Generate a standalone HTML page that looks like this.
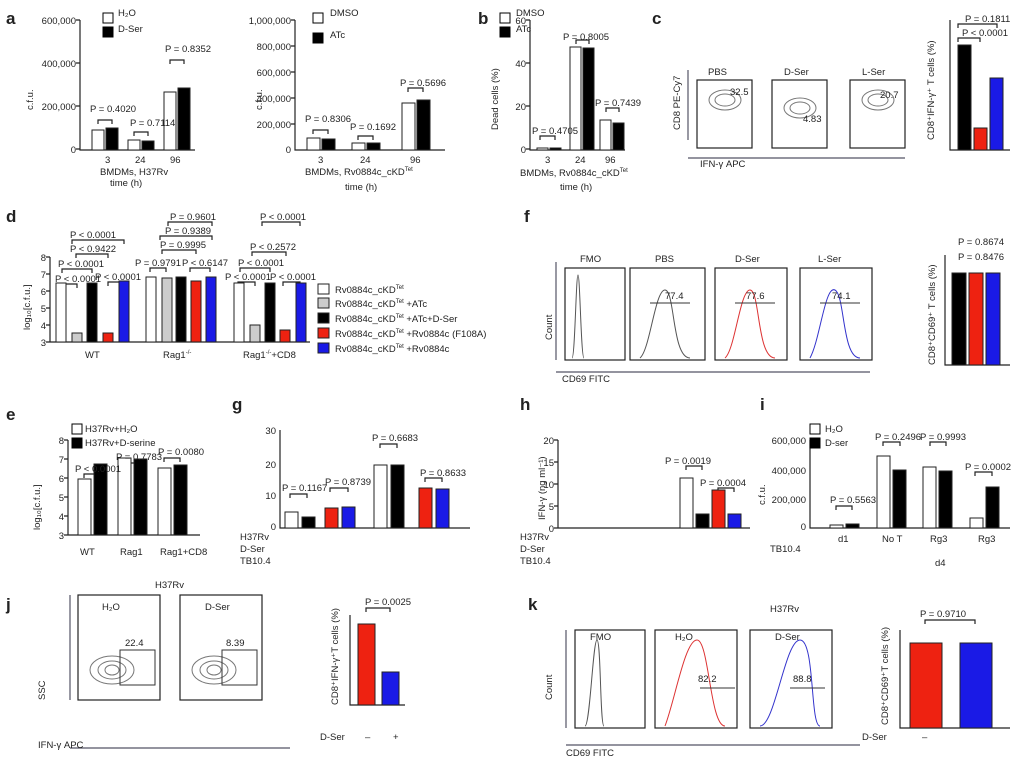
<!DOCTYPE html><html><head><style>body{margin:0;background:#fff}svg{display:block}text{font-family:"Liberation Sans",sans-serif;fill:#222}</style></head><body>
<svg width="1021" height="759" viewBox="0 0 1021 759" xmlns="http://www.w3.org/2000/svg">
<g font-weight="bold" font-size="17"><text x="6" y="24">a</text><text x="478" y="24">b</text><text x="652" y="24">c</text><text x="6" y="222">d</text><text x="524" y="222">f</text><text x="6" y="420">e</text><text x="232" y="410">g</text><text x="520" y="410">h</text><text x="760" y="410">i</text><text x="6" y="610">j</text><text x="528" y="610">k</text></g>
<g stroke="#222" stroke-width="1.2" fill="none">
<path d="M80 20V150H195M76 20H80M76 63H80M76 106H80M76 149H80"/>
<path d="M295 20V150H445M291 20H295M291 46H295M291 72H295M291 98H295M291 124H295"/>
<path d="M530 20V150H625M526 20H530M526 63H530M526 106H530M526 149H530"/>
<path d="M950 20V150H1010"/>
<path d="M50 257V342H310M46 257H50M46 274H50M46 291H50M46 308H50M46 325H50M46 342H50"/>
<path d="M945 255V365H1010"/>
<path d="M68 440V535H200M64 440H68M64 459H68M64 478H68M64 497H68M64 516H68M64 535H68"/>
<path d="M280 430V528H470"/>
<path d="M558 440V528H750M554 440H558M554 462H558M554 484H558M554 506H558M554 528H558"/>
<path d="M810 440V528H1010"/>
<path d="M350 615V705H405"/>
<path d="M900 630V728H1010"/>
<rect x="697" y="80" width="55" height="68"/><rect x="772" y="80" width="55" height="68"/><rect x="850" y="80" width="55" height="68"/>
<path d="M688 140V70M688 158H905" stroke="#556"/>
<rect x="565" y="268" width="60" height="92"/><rect x="630" y="268" width="75" height="92"/><rect x="715" y="268" width="72" height="92"/><rect x="800" y="268" width="72" height="92"/>
<path d="M556 360V262M556 372H870" stroke="#556"/>
<rect x="78" y="595" width="82" height="105"/><rect x="180" y="595" width="82" height="105"/>
<path d="M70 700V595M70 748H290" stroke="#556"/>
<rect x="575" y="630" width="70" height="98"/><rect x="655" y="630" width="82" height="98"/><rect x="750" y="630" width="82" height="98"/>
<path d="M566 728V630M566 745H860" stroke="#556"/>
<!-- brackets -->
<path d="M98 124V120H112V124M134 136V132H148V136M170 64V60H184V64M313 134V130H328V134M358 140V136H373V140M408 92V88H423V92M540 140V136H555V140M576 44V40H589V44M606 112V108H619V112M958 28V24H997V28M958 42V38H980V42"/>
<path d="M60 288V284H77V288M62 273V269H92V273M76 258V254H108V258M72 244V240H124V244M108 286V282H124V286M150 272V268H166V272M162 254V250H196V254M160 240V236H212V240M168 226V222H212V226M190 272V268H210V272M238 286V282H255V286M240 272V268H270V272M252 256V252H286V256M262 226V222H300V226M283 286V282H300V286"/>
<path d="M84 478V474H100V478M124 467V463H140V467M164 462V458H180V462M290 498V494H307V498M330 492V488H348V492M380 448V444H397V448M425 482V478H442V482M686 470V466H702V470M718 492V488H734V492M836 510V506H852V510M883 446V442H900V446M930 446V442H946V446M975 476V472H992V476M366 612V608H390V612M925 624V620H975V624"/>
</g>
<g fill="none" stroke="#777" stroke-width="1">
<ellipse cx="725" cy="100" rx="16" ry="10"/><ellipse cx="725" cy="100" rx="10" ry="6"/><ellipse cx="800" cy="108" rx="16" ry="10"/><ellipse cx="800" cy="108" rx="10" ry="6"/><ellipse cx="878" cy="100" rx="16" ry="10"/><ellipse cx="878" cy="100" rx="10" ry="6"/>
<ellipse cx="112" cy="670" rx="22" ry="14"/><ellipse cx="112" cy="670" rx="14" ry="9"/><ellipse cx="112" cy="670" rx="7" ry="5"/><ellipse cx="214" cy="670" rx="22" ry="14"/><ellipse cx="214" cy="670" rx="14" ry="9"/><ellipse cx="214" cy="670" rx="7" ry="5"/>
<rect x="120" y="650" width="35" height="35" stroke="#333"/><rect x="222" y="650" width="35" height="35" stroke="#333"/>
<path d="M572 358C575 358 576 275 578 275S581 358 584 358" stroke="#555"/>
<path d="M640 358C650 350 655 290 665 290S672 358 690 358" stroke="#555"/>
<path d="M725 358C735 350 740 290 750 290S757 358 775 358" stroke="#d33"/>
<path d="M810 358C820 340 825 285 835 290S842 358 860 358" stroke="#33c"/>
<path d="M585 726C590 726 593 640 597 640S600 726 604 726" stroke="#555"/>
<path d="M665 726C675 700 685 640 697 640S710 726 725 726" stroke="#d33"/>
<path d="M760 726C775 726 785 640 800 640S810 726 820 726" stroke="#33c"/>
<path d="M650 303H690M735 303H775M820 303H860M700 688H735M790 688H825" stroke="#333"/>
</g>
<g stroke="#222" stroke-width="1">
<rect x="92" y="130" width="12" height="20" fill="#fff"/><rect x="106" y="128" width="12" height="22" fill="#000"/>
<rect x="128" y="140" width="12" height="10" fill="#fff"/><rect x="142" y="141" width="12" height="9" fill="#000"/>
<rect x="164" y="92" width="12" height="58" fill="#fff"/><rect x="178" y="88" width="12" height="62" fill="#000"/>
<rect x="307" y="138" width="13" height="12" fill="#fff"/><rect x="322" y="139" width="13" height="11" fill="#000"/>
<rect x="352" y="143" width="13" height="7" fill="#fff"/><rect x="367" y="143" width="13" height="7" fill="#000"/>
<rect x="402" y="103" width="13" height="47" fill="#fff"/><rect x="417" y="100" width="13" height="50" fill="#000"/>
<rect x="537" y="148" width="11" height="2" fill="#fff"/><rect x="550" y="148" width="11" height="2" fill="#000"/>
<rect x="570" y="47" width="11" height="103" fill="#fff"/><rect x="583" y="48" width="11" height="102" fill="#000"/>
<rect x="600" y="120" width="11" height="30" fill="#fff"/><rect x="613" y="123" width="11" height="27" fill="#000"/>
<rect x="958" y="45" width="13" height="105" fill="#000"/><rect x="974" y="128" width="13" height="22" fill="#e21"/><rect x="990" y="78" width="13" height="72" fill="#1a1ae6"/>
<rect x="56" y="283" width="10" height="59" fill="#fff"/><rect x="72" y="333" width="10" height="9" fill="#ccc"/><rect x="87" y="283" width="10" height="59" fill="#000"/><rect x="103" y="333" width="10" height="9" fill="#e21"/><rect x="119" y="281" width="10" height="61" fill="#1a1ae6"/>
<rect x="146" y="277" width="10" height="65" fill="#fff"/><rect x="162" y="278" width="10" height="64" fill="#ccc"/><rect x="176" y="277" width="10" height="65" fill="#000"/><rect x="191" y="281" width="10" height="61" fill="#e21"/><rect x="206" y="277" width="10" height="65" fill="#1a1ae6"/>
<rect x="234" y="283" width="10" height="59" fill="#fff"/><rect x="250" y="325" width="10" height="17" fill="#ccc"/><rect x="265" y="283" width="10" height="59" fill="#000"/><rect x="280" y="330" width="10" height="12" fill="#e21"/><rect x="296" y="283" width="10" height="59" fill="#1a1ae6"/>
<rect x="318" y="284" width="11" height="10" fill="#fff"/><rect x="318" y="298" width="11" height="10" fill="#ccc"/><rect x="318" y="313" width="11" height="10" fill="#000"/><rect x="318" y="328" width="11" height="10" fill="#e21"/><rect x="318" y="343" width="11" height="10" fill="#1a1ae6"/>
<rect x="952" y="273" width="14" height="92" fill="#000"/><rect x="969" y="273" width="14" height="92" fill="#e21"/><rect x="986" y="273" width="14" height="92" fill="#1a1ae6"/>
<rect x="78" y="479" width="13" height="56" fill="#fff"/><rect x="94" y="464" width="13" height="71" fill="#000"/><rect x="118" y="458" width="13" height="77" fill="#fff"/><rect x="134" y="459" width="13" height="76" fill="#000"/><rect x="158" y="468" width="13" height="67" fill="#fff"/><rect x="174" y="465" width="13" height="70" fill="#000"/>
<rect x="285" y="512" width="13" height="16" fill="#fff"/><rect x="302" y="517" width="13" height="11" fill="#000"/><rect x="325" y="508" width="13" height="20" fill="#e21"/><rect x="342" y="507" width="13" height="21" fill="#1a1ae6"/><rect x="374" y="465" width="13" height="63" fill="#fff"/><rect x="391" y="465" width="13" height="63" fill="#000"/><rect x="419" y="488" width="13" height="40" fill="#e21"/><rect x="436" y="489" width="13" height="39" fill="#1a1ae6"/>
<rect x="680" y="478" width="13" height="50" fill="#fff"/><rect x="696" y="514" width="13" height="14" fill="#000"/><rect x="712" y="490" width="13" height="38" fill="#e21"/><rect x="728" y="514" width="13" height="14" fill="#1a1ae6"/>
<rect x="830" y="525" width="13" height="3" fill="#fff"/><rect x="846" y="524" width="13" height="4" fill="#000"/><rect x="877" y="456" width="13" height="72" fill="#fff"/><rect x="893" y="470" width="13" height="58" fill="#000"/><rect x="923" y="467" width="13" height="61" fill="#fff"/><rect x="939" y="471" width="13" height="57" fill="#000"/><rect x="970" y="518" width="13" height="10" fill="#fff"/><rect x="986" y="487" width="13" height="41" fill="#000"/>
<rect x="358" y="624" width="17" height="81" fill="#e21"/><rect x="382" y="672" width="17" height="33" fill="#1a1ae6"/>
<rect x="910" y="643" width="32" height="85" fill="#e21"/><rect x="960" y="643" width="32" height="85" fill="#1a1ae6"/>
</g>
<g font-size="9.5">
<text x="76" y="24" text-anchor="end">600,000</text><text x="76" y="67" text-anchor="end">400,000</text><text x="76" y="110" text-anchor="end">200,000</text><text x="76" y="153" text-anchor="end">0</text>
<text x="291" y="24" text-anchor="end">1,000,000</text><text x="291" y="50" text-anchor="end">800,000</text><text x="291" y="76" text-anchor="end">600,000</text><text x="291" y="102" text-anchor="end">400,000</text><text x="291" y="128" text-anchor="end">200,000</text><text x="291" y="153" text-anchor="end">0</text>
<text x="526" y="24" text-anchor="end">60</text><text x="526" y="67" text-anchor="end">40</text><text x="526" y="110" text-anchor="end">20</text><text x="526" y="153" text-anchor="end">0</text>
<text x="105" y="163">3</text><text x="135" y="163">24</text><text x="170" y="163">96</text><text x="100" y="175">BMDMs, H37Rv</text><text x="110" y="186">time (h)</text>
<text x="318" y="163">3</text><text x="360" y="163">24</text><text x="410" y="163">96</text><text x="305" y="175">BMDMs, Rv0884c_cKD<tspan font-size="6" dy="-4">Tet</tspan></text><text x="345" y="190">time (h)</text>
<text x="545" y="163">3</text><text x="575" y="163">24</text><text x="605" y="163">96</text><text x="520" y="176">BMDMs, Rv0884c_cKD<tspan font-size="6" dy="-4">Tet</tspan></text><text x="560" y="190">time (h)</text>
<text x="118" y="16">H₂O</text><text x="118" y="32">D-Ser</text><text x="330" y="16">DMSO</text><text x="330" y="38">ATc</text><text x="516" y="16">DMSO</text><text x="516" y="32">ATc</text>
<text x="90" y="112">P = 0.4020</text><text x="130" y="126">P = 0.7114</text><text x="165" y="52">P = 0.8352</text><text x="305" y="122">P = 0.8306</text><text x="350" y="130">P = 0.1692</text><text x="400" y="86">P = 0.5696</text><text x="532" y="134">P = 0.4705</text><text x="563" y="40">P = 0.8005</text><text x="595" y="106">P = 0.7439</text>
<text x="708" y="75">PBS</text><text x="784" y="75">D-Ser</text><text x="862" y="75">L-Ser</text><text x="730" y="95">32.5</text><text x="803" y="122">4.83</text><text x="880" y="98">20.7</text><text x="700" y="167">IFN-γ APC</text>
<text x="965" y="22">P = 0.1811</text><text x="962" y="36">P &lt; 0.0001</text>
<text x="46" y="261" text-anchor="end">8</text><text x="46" y="278" text-anchor="end">7</text><text x="46" y="295" text-anchor="end">6</text><text x="46" y="312" text-anchor="end">5</text><text x="46" y="329" text-anchor="end">4</text><text x="46" y="346" text-anchor="end">3</text>
<text x="85" y="358">WT</text><text x="163" y="358">Rag1<tspan font-size="6" dy="-4">-/-</tspan></text><text x="243" y="358">Rag1<tspan font-size="6" dy="-4">-/-</tspan><tspan dy="4">+CD8</tspan></text>
<text x="335" y="293">Rv0884c_cKD<tspan font-size="6" dy="-4">Tet</tspan></text><text x="335" y="307">Rv0884c_cKD<tspan font-size="6" dy="-4">Tet</tspan><tspan dy="4"> +ATc</tspan></text><text x="335" y="322">Rv0884c_cKD<tspan font-size="6" dy="-4">Tet</tspan><tspan dy="4"> +ATc+D-Ser</tspan></text><text x="335" y="337">Rv0884c_cKD<tspan font-size="6" dy="-4">Tet</tspan><tspan dy="4"> +Rv0884c (F108A)</tspan></text><text x="335" y="352">Rv0884c_cKD<tspan font-size="6" dy="-4">Tet</tspan><tspan dy="4"> +Rv0884c</tspan></text>
<text x="55" y="282">P &lt; 0.0001</text><text x="58" y="267">P &lt; 0.0001</text><text x="70" y="252">P &lt; 0.9422</text><text x="95" y="280">P &lt; 0.0001</text><text x="135" y="266">P = 0.9791</text><text x="160" y="248">P = 0.9995</text><text x="182" y="266">P &lt; 0.6147</text><text x="165" y="234">P = 0.9389</text><text x="170" y="220">P = 0.9601</text><text x="225" y="280">P &lt; 0.0001</text><text x="238" y="266">P &lt; 0.0001</text><text x="250" y="250">P &lt; 0.2572</text><text x="270" y="280">P &lt; 0.0001</text><text x="260" y="220">P &lt; 0.0001</text><text x="70" y="238">P &lt; 0.0001</text>
<text x="580" y="262">FMO</text><text x="655" y="262">PBS</text><text x="735" y="262">D-Ser</text><text x="818" y="262">L-Ser</text><text x="665" y="299">77.4</text><text x="746" y="299">77.6</text><text x="832" y="299">74.1</text><text x="562" y="382">CD69 FITC</text>
<text x="958" y="245">P = 0.8674</text><text x="958" y="260">P = 0.8476</text>
<text x="85" y="432">H37Rv+H₂O</text><text x="85" y="446">H37Rv+D-serine</text><text x="75" y="472">P &lt; 0.0001</text><text x="116" y="460">P = 0.7783</text><text x="158" y="455">P = 0.0080</text><text x="80" y="555">WT</text><text x="120" y="555">Rag1</text><text x="160" y="555">Rag1+CD8</text>
<text x="64" y="444" text-anchor="end">8</text><text x="64" y="463" text-anchor="end">7</text><text x="64" y="482" text-anchor="end">6</text><text x="64" y="501" text-anchor="end">5</text><text x="64" y="520" text-anchor="end">4</text><text x="64" y="539" text-anchor="end">3</text>
<text x="276" y="434" text-anchor="end">30</text><text x="276" y="468" text-anchor="end">20</text><text x="276" y="499" text-anchor="end">10</text><text x="276" y="530" text-anchor="end">0</text>
<text x="554" y="444" text-anchor="end">20</text><text x="554" y="466" text-anchor="end">15</text><text x="554" y="488" text-anchor="end">10</text><text x="554" y="510" text-anchor="end">5</text><text x="554" y="532" text-anchor="end">0</text>
<text x="282" y="491">P = 0.1167</text><text x="325" y="485">P = 0.8739</text><text x="372" y="441">P = 0.6683</text><text x="420" y="476">P = 0.8633</text>
<text x="240" y="540">H37Rv</text><text x="240" y="552">D-Ser</text><text x="240" y="564">TB10.4</text><text x="520" y="540">H37Rv</text><text x="520" y="552">D-Ser</text><text x="520" y="564">TB10.4</text>
<text x="665" y="464">P = 0.0019</text><text x="700" y="486">P = 0.0004</text>
<text x="806" y="444" text-anchor="end">600,000</text><text x="806" y="474" text-anchor="end">400,000</text><text x="806" y="503" text-anchor="end">200,000</text><text x="806" y="530" text-anchor="end">0</text>
<text x="825" y="432">H₂O</text><text x="825" y="446">D-ser</text><text x="830" y="503">P = 0.5563</text><text x="875" y="440">P = 0.2496</text><text x="920" y="440">P = 0.9993</text><text x="965" y="470">P = 0.0002</text>
<text x="838" y="542">d1</text><text x="882" y="542">No T</text><text x="930" y="542">Rg3</text><text x="978" y="542">Rg3</text><text x="770" y="552">TB10.4</text><text x="935" y="566">d4</text>
<text x="155" y="588">H37Rv</text><text x="102" y="610">H₂O</text><text x="205" y="610">D-Ser</text><text x="125" y="646">22.4</text><text x="226" y="646">8.39</text><text x="38" y="748">IFN-γ APC</text>
<text x="365" y="605">P = 0.0025</text><text x="320" y="740">D-Ser</text><text x="365" y="740">–</text><text x="393" y="740">+</text>
<text x="590" y="640">FMO</text><text x="770" y="612">H37Rv</text><text x="675" y="640">H₂O</text><text x="775" y="640">D-Ser</text><text x="698" y="682">82.2</text><text x="793" y="682">88.8</text><text x="566" y="756">CD69 FITC</text>
<text x="920" y="617">P = 0.9710</text><text x="862" y="740">D-Ser</text><text x="922" y="740">–</text>
</g>
<g font-size="9.5">
<text transform="translate(33 110) rotate(-90)">c.f.u.</text><text transform="translate(262 110) rotate(-90)">c.f.u.</text><text transform="translate(498 130) rotate(-90)">Dead cells (%)</text><text transform="translate(934 140) rotate(-90)">CD8⁺IFN-γ⁺ T cells (%)</text><text transform="translate(30 330) rotate(-90)">log₁₀[c.f.u.]</text><text transform="translate(935 365) rotate(-90)">CD8⁺CD69⁺ T cells (%)</text><text transform="translate(40 530) rotate(-90)">log₁₀[c.f.u.]</text><text transform="translate(545 520) rotate(-90)">IFN-γ (ng ml⁻¹)</text><text transform="translate(765 505) rotate(-90)">c.f.u.</text><text transform="translate(338 705) rotate(-90)">CD8⁺IFN-γ⁺T cells (%)</text><text transform="translate(888 725) rotate(-90)">CD8⁺CD69⁺T cells (%)</text><text transform="translate(45 700) rotate(-90)">SSC</text><text transform="translate(552 700) rotate(-90)">Count</text><text transform="translate(552 340) rotate(-90)">Count</text><text transform="translate(680 130) rotate(-90)">CD8 PE-Cy7</text>
</g>
<g stroke="#000"><rect x="103" y="13" width="10" height="10" fill="#fff"/><rect x="103" y="27" width="10" height="10" fill="#000"/><rect x="313" y="13" width="10" height="10" fill="#fff"/><rect x="313" y="33" width="10" height="10" fill="#000"/><rect x="500" y="13" width="10" height="10" fill="#fff"/><rect x="500" y="27" width="10" height="10" fill="#000"/><rect x="72" y="424" width="10" height="10" fill="#fff"/><rect x="72" y="438" width="10" height="10" fill="#000"/><rect x="810" y="424" width="10" height="10" fill="#fff"/><rect x="810" y="438" width="10" height="10" fill="#000"/></g>
</svg></body></html>
